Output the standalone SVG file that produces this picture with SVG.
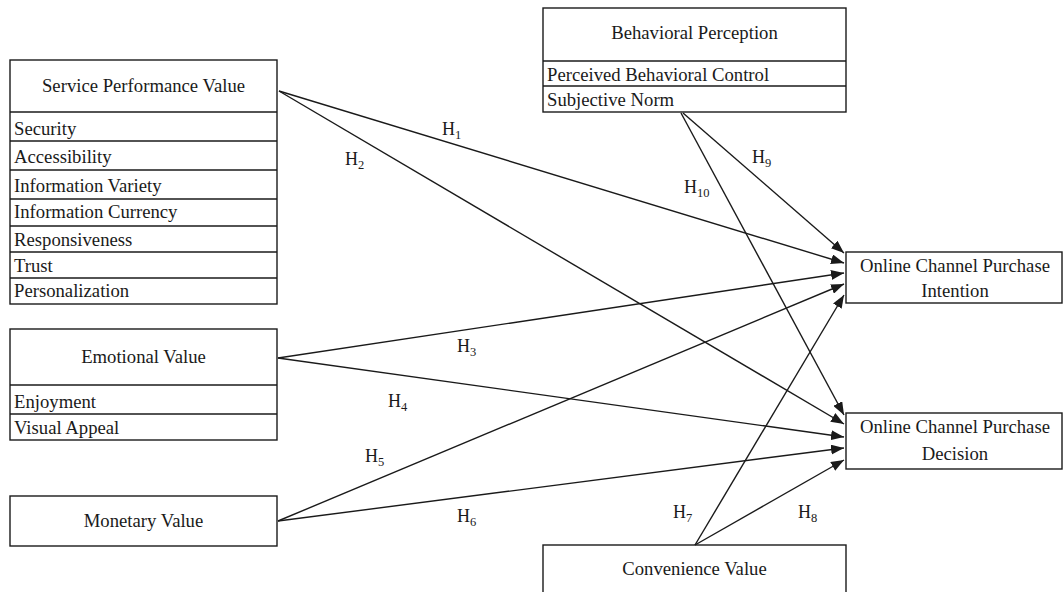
<svg xmlns="http://www.w3.org/2000/svg" width="1064" height="592" viewBox="0 0 1064 592">
  <style>
    .box { fill: #fff; stroke: #1a1a1a; stroke-width: 1.4; }
    .sep { stroke: #1a1a1a; stroke-width: 1.4; }
    .t { font-family: "Liberation Serif", "Times New Roman", serif; font-size: 18.7px; fill: #1a1a1a; }
    .c { text-anchor: middle; }
    .lbl { font-family: "Liberation Serif", "Times New Roman", serif; font-size: 18px; fill: #1a1a1a; }
    .sub { font-size: 12.5px; }
    .edge { stroke: #1a1a1a; stroke-width: 1.4; fill: none; marker-end: url(#arrow); }
  </style>
  <defs>
    <marker id="arrow" markerUnits="userSpaceOnUse" markerWidth="14" markerHeight="10" refX="13" refY="5" orient="auto">
      <path d="M0,0 L13,5 L0,10 Z" fill="#1a1a1a"/>
    </marker>
  </defs>
  <rect width="1064" height="592" fill="#fff"/>

  <!-- Service Performance Value -->
  <g id="service-performance-value">
    <rect class="box" x="10" y="60" width="267" height="244"/>
    <line class="sep" x1="10" y1="112" x2="277" y2="112"/>
    <line class="sep" x1="10" y1="141" x2="277" y2="141"/>
    <line class="sep" x1="10" y1="170" x2="277" y2="170"/>
    <line class="sep" x1="10" y1="199" x2="277" y2="199"/>
    <line class="sep" x1="10" y1="226" x2="277" y2="226"/>
    <line class="sep" x1="10" y1="252" x2="277" y2="252"/>
    <line class="sep" x1="10" y1="278" x2="277" y2="278"/>
    <text class="t c" x="143.5" y="92">Service Performance Value</text>
    <text class="t" x="14" y="135">Security</text>
    <text class="t" x="14" y="163">Accessibility</text>
    <text class="t" x="14" y="192">Information Variety</text>
    <text class="t" x="14" y="218">Information Currency</text>
    <text class="t" x="14" y="246">Responsiveness</text>
    <text class="t" x="14" y="272">Trust</text>
    <text class="t" x="14" y="297">Personalization</text>
  </g>

  <!-- Emotional Value -->
  <g id="emotional-value">
    <rect class="box" x="10" y="329" width="267" height="111"/>
    <line class="sep" x1="10" y1="385" x2="277" y2="385"/>
    <line class="sep" x1="10" y1="414" x2="277" y2="414"/>
    <text class="t c" x="143.5" y="363">Emotional Value</text>
    <text class="t" x="14" y="408">Enjoyment</text>
    <text class="t" x="14" y="434">Visual Appeal</text>
  </g>

  <!-- Monetary Value -->
  <g id="monetary-value">
    <rect class="box" x="10" y="496" width="267" height="50"/>
    <text class="t c" x="143.5" y="527">Monetary Value</text>
  </g>

  <!-- Behavioral Perception -->
  <g id="behavioral-perception">
    <rect class="box" x="543" y="8" width="303" height="104"/>
    <line class="sep" x1="543" y1="61" x2="846" y2="61"/>
    <line class="sep" x1="543" y1="86" x2="846" y2="86"/>
    <text class="t c" x="694.5" y="39">Behavioral Perception</text>
    <text class="t" x="547" y="81">Perceived Behavioral Control</text>
    <text class="t" x="547" y="106">Subjective Norm</text>
  </g>

  <!-- Online Channel Purchase Intention -->
  <g id="purchase-intention">
    <rect class="box" x="846" y="252" width="216" height="51"/>
    <text class="t c" x="955" y="272">Online Channel Purchase</text>
    <text class="t c" x="955" y="297">Intention</text>
  </g>

  <!-- Online Channel Purchase Decision -->
  <g id="purchase-decision">
    <rect class="box" x="846" y="413" width="216" height="56"/>
    <text class="t c" x="955" y="433">Online Channel Purchase</text>
    <text class="t c" x="955" y="460">Decision</text>
  </g>

  <!-- Convenience Value -->
  <g id="convenience-value">
    <rect class="box" x="543" y="545" width="303" height="60"/>
    <text class="t c" x="694.5" y="575">Convenience Value</text>
  </g>

  <!-- Hypothesis paths -->
  <g id="connectors">
    <line class="edge" x1="683" y1="113" x2="844" y2="253"/>
    <line class="edge" x1="279" y1="91" x2="844" y2="263"/>
    <line class="edge" x1="278" y1="358" x2="844" y2="273"/>
    <line class="edge" x1="278" y1="521" x2="844" y2="284"/>
    <line class="edge" x1="695" y1="545" x2="844" y2="295"/>
    <line class="edge" x1="681" y1="113" x2="844" y2="415"/>
    <line class="edge" x1="279" y1="91" x2="844" y2="424"/>
    <line class="edge" x1="278" y1="358" x2="844" y2="437"/>
    <line class="edge" x1="278" y1="521" x2="844" y2="448"/>
    <line class="edge" x1="695" y1="545" x2="844" y2="460"/>
  </g>

  <!-- Hypothesis labels -->
  <g id="labels">
    <text class="lbl" x="442" y="135">H<tspan class="sub" dy="4">1</tspan></text>
    <text class="lbl" x="345" y="165">H<tspan class="sub" dy="4">2</tspan></text>
    <text class="lbl" x="457" y="352">H<tspan class="sub" dy="4">3</tspan></text>
    <text class="lbl" x="388" y="407">H<tspan class="sub" dy="4">4</tspan></text>
    <text class="lbl" x="365" y="462">H<tspan class="sub" dy="4">5</tspan></text>
    <text class="lbl" x="457" y="522">H<tspan class="sub" dy="4">6</tspan></text>
    <text class="lbl" x="673" y="518">H<tspan class="sub" dy="4">7</tspan></text>
    <text class="lbl" x="798" y="518">H<tspan class="sub" dy="4">8</tspan></text>
    <text class="lbl" x="752" y="163">H<tspan class="sub" dy="4">9</tspan></text>
    <text class="lbl" x="684" y="193">H<tspan class="sub" dy="4">10</tspan></text>
  </g>
</svg>
